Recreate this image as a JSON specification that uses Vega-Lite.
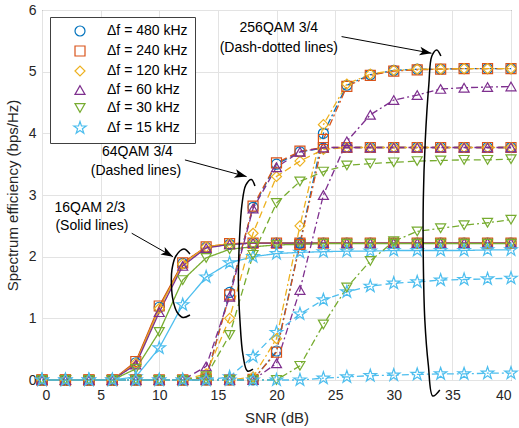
{
"$schema":"https://vega.github.io/schema/vega-lite/v6.json",
"width":469,"height":370,
"autosize":{"type":"none"},
"padding":{"left":42,"top":10,"right":8,"bottom":48},
"config":{
"font":"Liberation Sans",
"view":{"stroke":"#404040","strokeWidth":1},
"axis":{"grid":true,"gridColor":"#e3e3e3","domain":false,"ticks":false,"labelFontSize":14,"labelColor":"#262626","titleFontSize":15,"titleFontWeight":"normal","titleColor":"#262626"}
},
"resolve":{"scale":{"color":"independent","shape":"independent","strokeDash":"independent"},"legend":{"color":"independent","shape":"independent","strokeDash":"independent"}},
"datasets":{
"main":[
{"m":"16QAM","f":"Δf = 480 kHz","snr":0,"se":0},{"m":"16QAM","f":"Δf = 480 kHz","snr":2,"se":0},{"m":"16QAM","f":"Δf = 480 kHz","snr":4,"se":0},{"m":"16QAM","f":"Δf = 480 kHz","snr":6,"se":0},{"m":"16QAM","f":"Δf = 480 kHz","snr":8,"se":0.28},{"m":"16QAM","f":"Δf = 480 kHz","snr":10,"se":1.18},{"m":"16QAM","f":"Δf = 480 kHz","snr":12,"se":1.89},{"m":"16QAM","f":"Δf = 480 kHz","snr":14,"se":2.15},{"m":"16QAM","f":"Δf = 480 kHz","snr":16,"se":2.2},{"m":"16QAM","f":"Δf = 480 kHz","snr":18,"se":2.22},{"m":"16QAM","f":"Δf = 480 kHz","snr":20,"se":2.22},{"m":"16QAM","f":"Δf = 480 kHz","snr":22,"se":2.22},{"m":"16QAM","f":"Δf = 480 kHz","snr":24,"se":2.22},{"m":"16QAM","f":"Δf = 480 kHz","snr":26,"se":2.22},{"m":"16QAM","f":"Δf = 480 kHz","snr":28,"se":2.22},{"m":"16QAM","f":"Δf = 480 kHz","snr":30,"se":2.22},{"m":"16QAM","f":"Δf = 480 kHz","snr":32,"se":2.22},{"m":"16QAM","f":"Δf = 480 kHz","snr":34,"se":2.22},{"m":"16QAM","f":"Δf = 480 kHz","snr":36,"se":2.22},{"m":"16QAM","f":"Δf = 480 kHz","snr":38,"se":2.22},{"m":"16QAM","f":"Δf = 480 kHz","snr":40,"se":2.22},
{"m":"16QAM","f":"Δf = 240 kHz","snr":0,"se":0},{"m":"16QAM","f":"Δf = 240 kHz","snr":2,"se":0},{"m":"16QAM","f":"Δf = 240 kHz","snr":4,"se":0},{"m":"16QAM","f":"Δf = 240 kHz","snr":6,"se":0},{"m":"16QAM","f":"Δf = 240 kHz","snr":8,"se":0.3},{"m":"16QAM","f":"Δf = 240 kHz","snr":10,"se":1.2},{"m":"16QAM","f":"Δf = 240 kHz","snr":12,"se":1.9},{"m":"16QAM","f":"Δf = 240 kHz","snr":14,"se":2.16},{"m":"16QAM","f":"Δf = 240 kHz","snr":16,"se":2.21},{"m":"16QAM","f":"Δf = 240 kHz","snr":18,"se":2.22},{"m":"16QAM","f":"Δf = 240 kHz","snr":20,"se":2.22},{"m":"16QAM","f":"Δf = 240 kHz","snr":22,"se":2.22},{"m":"16QAM","f":"Δf = 240 kHz","snr":24,"se":2.22},{"m":"16QAM","f":"Δf = 240 kHz","snr":26,"se":2.22},{"m":"16QAM","f":"Δf = 240 kHz","snr":28,"se":2.22},{"m":"16QAM","f":"Δf = 240 kHz","snr":30,"se":2.22},{"m":"16QAM","f":"Δf = 240 kHz","snr":32,"se":2.22},{"m":"16QAM","f":"Δf = 240 kHz","snr":34,"se":2.22},{"m":"16QAM","f":"Δf = 240 kHz","snr":36,"se":2.22},{"m":"16QAM","f":"Δf = 240 kHz","snr":38,"se":2.22},{"m":"16QAM","f":"Δf = 240 kHz","snr":40,"se":2.22},
{"m":"16QAM","f":"Δf = 120 kHz","snr":0,"se":0},{"m":"16QAM","f":"Δf = 120 kHz","snr":2,"se":0},{"m":"16QAM","f":"Δf = 120 kHz","snr":4,"se":0},{"m":"16QAM","f":"Δf = 120 kHz","snr":6,"se":0},{"m":"16QAM","f":"Δf = 120 kHz","snr":8,"se":0.27},{"m":"16QAM","f":"Δf = 120 kHz","snr":10,"se":1.16},{"m":"16QAM","f":"Δf = 120 kHz","snr":12,"se":1.88},{"m":"16QAM","f":"Δf = 120 kHz","snr":14,"se":2.16},{"m":"16QAM","f":"Δf = 120 kHz","snr":16,"se":2.21},{"m":"16QAM","f":"Δf = 120 kHz","snr":18,"se":2.22},{"m":"16QAM","f":"Δf = 120 kHz","snr":20,"se":2.22},{"m":"16QAM","f":"Δf = 120 kHz","snr":22,"se":2.22},{"m":"16QAM","f":"Δf = 120 kHz","snr":24,"se":2.22},{"m":"16QAM","f":"Δf = 120 kHz","snr":26,"se":2.22},{"m":"16QAM","f":"Δf = 120 kHz","snr":28,"se":2.22},{"m":"16QAM","f":"Δf = 120 kHz","snr":30,"se":2.22},{"m":"16QAM","f":"Δf = 120 kHz","snr":32,"se":2.22},{"m":"16QAM","f":"Δf = 120 kHz","snr":34,"se":2.22},{"m":"16QAM","f":"Δf = 120 kHz","snr":36,"se":2.22},{"m":"16QAM","f":"Δf = 120 kHz","snr":38,"se":2.22},{"m":"16QAM","f":"Δf = 120 kHz","snr":40,"se":2.22},
{"m":"16QAM","f":"Δf = 60 kHz","snr":0,"se":0},{"m":"16QAM","f":"Δf = 60 kHz","snr":2,"se":0},{"m":"16QAM","f":"Δf = 60 kHz","snr":4,"se":0},{"m":"16QAM","f":"Δf = 60 kHz","snr":6,"se":0},{"m":"16QAM","f":"Δf = 60 kHz","snr":8,"se":0.25},{"m":"16QAM","f":"Δf = 60 kHz","snr":10,"se":1.1},{"m":"16QAM","f":"Δf = 60 kHz","snr":12,"se":1.85},{"m":"16QAM","f":"Δf = 60 kHz","snr":14,"se":2.14},{"m":"16QAM","f":"Δf = 60 kHz","snr":16,"se":2.2},{"m":"16QAM","f":"Δf = 60 kHz","snr":18,"se":2.22},{"m":"16QAM","f":"Δf = 60 kHz","snr":20,"se":2.22},{"m":"16QAM","f":"Δf = 60 kHz","snr":22,"se":2.22},{"m":"16QAM","f":"Δf = 60 kHz","snr":24,"se":2.22},{"m":"16QAM","f":"Δf = 60 kHz","snr":26,"se":2.22},{"m":"16QAM","f":"Δf = 60 kHz","snr":28,"se":2.22},{"m":"16QAM","f":"Δf = 60 kHz","snr":30,"se":2.22},{"m":"16QAM","f":"Δf = 60 kHz","snr":32,"se":2.22},{"m":"16QAM","f":"Δf = 60 kHz","snr":34,"se":2.22},{"m":"16QAM","f":"Δf = 60 kHz","snr":36,"se":2.22},{"m":"16QAM","f":"Δf = 60 kHz","snr":38,"se":2.22},{"m":"16QAM","f":"Δf = 60 kHz","snr":40,"se":2.22},
{"m":"16QAM","f":"Δf = 30 kHz","snr":0,"se":0},{"m":"16QAM","f":"Δf = 30 kHz","snr":2,"se":0},{"m":"16QAM","f":"Δf = 30 kHz","snr":4,"se":0},{"m":"16QAM","f":"Δf = 30 kHz","snr":6,"se":0},{"m":"16QAM","f":"Δf = 30 kHz","snr":8,"se":0.18},{"m":"16QAM","f":"Δf = 30 kHz","snr":10,"se":0.78},{"m":"16QAM","f":"Δf = 30 kHz","snr":12,"se":1.62},{"m":"16QAM","f":"Δf = 30 kHz","snr":14,"se":1.98},{"m":"16QAM","f":"Δf = 30 kHz","snr":16,"se":2.12},{"m":"16QAM","f":"Δf = 30 kHz","snr":18,"se":2.16},{"m":"16QAM","f":"Δf = 30 kHz","snr":20,"se":2.19},{"m":"16QAM","f":"Δf = 30 kHz","snr":22,"se":2.2},{"m":"16QAM","f":"Δf = 30 kHz","snr":24,"se":2.21},{"m":"16QAM","f":"Δf = 30 kHz","snr":26,"se":2.21},{"m":"16QAM","f":"Δf = 30 kHz","snr":28,"se":2.21},{"m":"16QAM","f":"Δf = 30 kHz","snr":30,"se":2.21},{"m":"16QAM","f":"Δf = 30 kHz","snr":32,"se":2.21},{"m":"16QAM","f":"Δf = 30 kHz","snr":34,"se":2.21},{"m":"16QAM","f":"Δf = 30 kHz","snr":36,"se":2.21},{"m":"16QAM","f":"Δf = 30 kHz","snr":38,"se":2.21},{"m":"16QAM","f":"Δf = 30 kHz","snr":40,"se":2.21},
{"m":"16QAM","f":"Δf = 15 kHz","snr":0,"se":0},{"m":"16QAM","f":"Δf = 15 kHz","snr":2,"se":0},{"m":"16QAM","f":"Δf = 15 kHz","snr":4,"se":0},{"m":"16QAM","f":"Δf = 15 kHz","snr":6,"se":0},{"m":"16QAM","f":"Δf = 15 kHz","snr":8,"se":0.05},{"m":"16QAM","f":"Δf = 15 kHz","snr":10,"se":0.52},{"m":"16QAM","f":"Δf = 15 kHz","snr":12,"se":1.22},{"m":"16QAM","f":"Δf = 15 kHz","snr":14,"se":1.67},{"m":"16QAM","f":"Δf = 15 kHz","snr":16,"se":1.9},{"m":"16QAM","f":"Δf = 15 kHz","snr":18,"se":2.0},{"m":"16QAM","f":"Δf = 15 kHz","snr":20,"se":2.05},{"m":"16QAM","f":"Δf = 15 kHz","snr":22,"se":2.07},{"m":"16QAM","f":"Δf = 15 kHz","snr":24,"se":2.08},{"m":"16QAM","f":"Δf = 15 kHz","snr":26,"se":2.09},{"m":"16QAM","f":"Δf = 15 kHz","snr":28,"se":2.09},{"m":"16QAM","f":"Δf = 15 kHz","snr":30,"se":2.1},{"m":"16QAM","f":"Δf = 15 kHz","snr":32,"se":2.1},{"m":"16QAM","f":"Δf = 15 kHz","snr":34,"se":2.1},{"m":"16QAM","f":"Δf = 15 kHz","snr":36,"se":2.1},{"m":"16QAM","f":"Δf = 15 kHz","snr":38,"se":2.11},{"m":"16QAM","f":"Δf = 15 kHz","snr":40,"se":2.11},
{"m":"64QAM","f":"Δf = 480 kHz","snr":0,"se":0},{"m":"64QAM","f":"Δf = 480 kHz","snr":2,"se":0},{"m":"64QAM","f":"Δf = 480 kHz","snr":4,"se":0},{"m":"64QAM","f":"Δf = 480 kHz","snr":6,"se":0},{"m":"64QAM","f":"Δf = 480 kHz","snr":8,"se":0},{"m":"64QAM","f":"Δf = 480 kHz","snr":10,"se":0},{"m":"64QAM","f":"Δf = 480 kHz","snr":12,"se":0},{"m":"64QAM","f":"Δf = 480 kHz","snr":14,"se":0.02},{"m":"64QAM","f":"Δf = 480 kHz","snr":16,"se":1.42},{"m":"64QAM","f":"Δf = 480 kHz","snr":18,"se":2.8},{"m":"64QAM","f":"Δf = 480 kHz","snr":20,"se":3.5},{"m":"64QAM","f":"Δf = 480 kHz","snr":22,"se":3.7},{"m":"64QAM","f":"Δf = 480 kHz","snr":24,"se":3.76},{"m":"64QAM","f":"Δf = 480 kHz","snr":26,"se":3.77},{"m":"64QAM","f":"Δf = 480 kHz","snr":28,"se":3.77},{"m":"64QAM","f":"Δf = 480 kHz","snr":30,"se":3.77},{"m":"64QAM","f":"Δf = 480 kHz","snr":32,"se":3.77},{"m":"64QAM","f":"Δf = 480 kHz","snr":34,"se":3.77},{"m":"64QAM","f":"Δf = 480 kHz","snr":36,"se":3.77},{"m":"64QAM","f":"Δf = 480 kHz","snr":38,"se":3.77},{"m":"64QAM","f":"Δf = 480 kHz","snr":40,"se":3.77},
{"m":"64QAM","f":"Δf = 240 kHz","snr":0,"se":0},{"m":"64QAM","f":"Δf = 240 kHz","snr":2,"se":0},{"m":"64QAM","f":"Δf = 240 kHz","snr":4,"se":0},{"m":"64QAM","f":"Δf = 240 kHz","snr":6,"se":0},{"m":"64QAM","f":"Δf = 240 kHz","snr":8,"se":0},{"m":"64QAM","f":"Δf = 240 kHz","snr":10,"se":0},{"m":"64QAM","f":"Δf = 240 kHz","snr":12,"se":0},{"m":"64QAM","f":"Δf = 240 kHz","snr":14,"se":0.03},{"m":"64QAM","f":"Δf = 240 kHz","snr":16,"se":1.38},{"m":"64QAM","f":"Δf = 240 kHz","snr":18,"se":2.82},{"m":"64QAM","f":"Δf = 240 kHz","snr":20,"se":3.52},{"m":"64QAM","f":"Δf = 240 kHz","snr":22,"se":3.71},{"m":"64QAM","f":"Δf = 240 kHz","snr":24,"se":3.77},{"m":"64QAM","f":"Δf = 240 kHz","snr":26,"se":3.77},{"m":"64QAM","f":"Δf = 240 kHz","snr":28,"se":3.77},{"m":"64QAM","f":"Δf = 240 kHz","snr":30,"se":3.77},{"m":"64QAM","f":"Δf = 240 kHz","snr":32,"se":3.77},{"m":"64QAM","f":"Δf = 240 kHz","snr":34,"se":3.77},{"m":"64QAM","f":"Δf = 240 kHz","snr":36,"se":3.77},{"m":"64QAM","f":"Δf = 240 kHz","snr":38,"se":3.77},{"m":"64QAM","f":"Δf = 240 kHz","snr":40,"se":3.77},
{"m":"64QAM","f":"Δf = 120 kHz","snr":0,"se":0},{"m":"64QAM","f":"Δf = 120 kHz","snr":2,"se":0},{"m":"64QAM","f":"Δf = 120 kHz","snr":4,"se":0},{"m":"64QAM","f":"Δf = 120 kHz","snr":6,"se":0},{"m":"64QAM","f":"Δf = 120 kHz","snr":8,"se":0},{"m":"64QAM","f":"Δf = 120 kHz","snr":10,"se":0},{"m":"64QAM","f":"Δf = 120 kHz","snr":12,"se":0},{"m":"64QAM","f":"Δf = 120 kHz","snr":14,"se":0.1},{"m":"64QAM","f":"Δf = 120 kHz","snr":16,"se":1.0},{"m":"64QAM","f":"Δf = 120 kHz","snr":18,"se":2.38},{"m":"64QAM","f":"Δf = 120 kHz","snr":20,"se":3.3},{"m":"64QAM","f":"Δf = 120 kHz","snr":22,"se":3.55},{"m":"64QAM","f":"Δf = 120 kHz","snr":24,"se":3.74},{"m":"64QAM","f":"Δf = 120 kHz","snr":26,"se":3.77},{"m":"64QAM","f":"Δf = 120 kHz","snr":28,"se":3.77},{"m":"64QAM","f":"Δf = 120 kHz","snr":30,"se":3.77},{"m":"64QAM","f":"Δf = 120 kHz","snr":32,"se":3.77},{"m":"64QAM","f":"Δf = 120 kHz","snr":34,"se":3.77},{"m":"64QAM","f":"Δf = 120 kHz","snr":36,"se":3.77},{"m":"64QAM","f":"Δf = 120 kHz","snr":38,"se":3.77},{"m":"64QAM","f":"Δf = 120 kHz","snr":40,"se":3.77},
{"m":"64QAM","f":"Δf = 60 kHz","snr":0,"se":0},{"m":"64QAM","f":"Δf = 60 kHz","snr":2,"se":0},{"m":"64QAM","f":"Δf = 60 kHz","snr":4,"se":0},{"m":"64QAM","f":"Δf = 60 kHz","snr":6,"se":0},{"m":"64QAM","f":"Δf = 60 kHz","snr":8,"se":0},{"m":"64QAM","f":"Δf = 60 kHz","snr":10,"se":0},{"m":"64QAM","f":"Δf = 60 kHz","snr":12,"se":0},{"m":"64QAM","f":"Δf = 60 kHz","snr":14,"se":0.22},{"m":"64QAM","f":"Δf = 60 kHz","snr":16,"se":1.35},{"m":"64QAM","f":"Δf = 60 kHz","snr":18,"se":2.78},{"m":"64QAM","f":"Δf = 60 kHz","snr":20,"se":3.45},{"m":"64QAM","f":"Δf = 60 kHz","snr":22,"se":3.7},{"m":"64QAM","f":"Δf = 60 kHz","snr":24,"se":3.77},{"m":"64QAM","f":"Δf = 60 kHz","snr":26,"se":3.77},{"m":"64QAM","f":"Δf = 60 kHz","snr":28,"se":3.77},{"m":"64QAM","f":"Δf = 60 kHz","snr":30,"se":3.77},{"m":"64QAM","f":"Δf = 60 kHz","snr":32,"se":3.77},{"m":"64QAM","f":"Δf = 60 kHz","snr":34,"se":3.77},{"m":"64QAM","f":"Δf = 60 kHz","snr":36,"se":3.77},{"m":"64QAM","f":"Δf = 60 kHz","snr":38,"se":3.77},{"m":"64QAM","f":"Δf = 60 kHz","snr":40,"se":3.77},
{"m":"64QAM","f":"Δf = 30 kHz","snr":0,"se":0},{"m":"64QAM","f":"Δf = 30 kHz","snr":2,"se":0},{"m":"64QAM","f":"Δf = 30 kHz","snr":4,"se":0},{"m":"64QAM","f":"Δf = 30 kHz","snr":6,"se":0},{"m":"64QAM","f":"Δf = 30 kHz","snr":8,"se":0},{"m":"64QAM","f":"Δf = 30 kHz","snr":10,"se":0},{"m":"64QAM","f":"Δf = 30 kHz","snr":12,"se":0},{"m":"64QAM","f":"Δf = 30 kHz","snr":14,"se":0.06},{"m":"64QAM","f":"Δf = 30 kHz","snr":16,"se":0.73},{"m":"64QAM","f":"Δf = 30 kHz","snr":18,"se":2.03},{"m":"64QAM","f":"Δf = 30 kHz","snr":20,"se":2.87},{"m":"64QAM","f":"Δf = 30 kHz","snr":22,"se":3.22},{"m":"64QAM","f":"Δf = 30 kHz","snr":24,"se":3.38},{"m":"64QAM","f":"Δf = 30 kHz","snr":26,"se":3.48},{"m":"64QAM","f":"Δf = 30 kHz","snr":28,"se":3.51},{"m":"64QAM","f":"Δf = 30 kHz","snr":30,"se":3.53},{"m":"64QAM","f":"Δf = 30 kHz","snr":32,"se":3.55},{"m":"64QAM","f":"Δf = 30 kHz","snr":34,"se":3.56},{"m":"64QAM","f":"Δf = 30 kHz","snr":36,"se":3.57},{"m":"64QAM","f":"Δf = 30 kHz","snr":38,"se":3.57},{"m":"64QAM","f":"Δf = 30 kHz","snr":40,"se":3.58},
{"m":"64QAM","f":"Δf = 15 kHz","snr":0,"se":0},{"m":"64QAM","f":"Δf = 15 kHz","snr":2,"se":0},{"m":"64QAM","f":"Δf = 15 kHz","snr":4,"se":0},{"m":"64QAM","f":"Δf = 15 kHz","snr":6,"se":0},{"m":"64QAM","f":"Δf = 15 kHz","snr":8,"se":0},{"m":"64QAM","f":"Δf = 15 kHz","snr":10,"se":0},{"m":"64QAM","f":"Δf = 15 kHz","snr":12,"se":0},{"m":"64QAM","f":"Δf = 15 kHz","snr":14,"se":0},{"m":"64QAM","f":"Δf = 15 kHz","snr":16,"se":0.05},{"m":"64QAM","f":"Δf = 15 kHz","snr":18,"se":0.38},{"m":"64QAM","f":"Δf = 15 kHz","snr":20,"se":0.77},{"m":"64QAM","f":"Δf = 15 kHz","snr":22,"se":1.07},{"m":"64QAM","f":"Δf = 15 kHz","snr":24,"se":1.3},{"m":"64QAM","f":"Δf = 15 kHz","snr":26,"se":1.43},{"m":"64QAM","f":"Δf = 15 kHz","snr":28,"se":1.52},{"m":"64QAM","f":"Δf = 15 kHz","snr":30,"se":1.57},{"m":"64QAM","f":"Δf = 15 kHz","snr":32,"se":1.59},{"m":"64QAM","f":"Δf = 15 kHz","snr":34,"se":1.62},{"m":"64QAM","f":"Δf = 15 kHz","snr":36,"se":1.63},{"m":"64QAM","f":"Δf = 15 kHz","snr":38,"se":1.64},{"m":"64QAM","f":"Δf = 15 kHz","snr":40,"se":1.65},
{"m":"256QAM","f":"Δf = 480 kHz","snr":0,"se":0},{"m":"256QAM","f":"Δf = 480 kHz","snr":2,"se":0},{"m":"256QAM","f":"Δf = 480 kHz","snr":4,"se":0},{"m":"256QAM","f":"Δf = 480 kHz","snr":6,"se":0},{"m":"256QAM","f":"Δf = 480 kHz","snr":8,"se":0},{"m":"256QAM","f":"Δf = 480 kHz","snr":10,"se":0},{"m":"256QAM","f":"Δf = 480 kHz","snr":12,"se":0},{"m":"256QAM","f":"Δf = 480 kHz","snr":14,"se":0},{"m":"256QAM","f":"Δf = 480 kHz","snr":16,"se":0},{"m":"256QAM","f":"Δf = 480 kHz","snr":18,"se":0},{"m":"256QAM","f":"Δf = 480 kHz","snr":20,"se":0.47},{"m":"256QAM","f":"Δf = 480 kHz","snr":22,"se":2.22},{"m":"256QAM","f":"Δf = 480 kHz","snr":24,"se":4.0},{"m":"256QAM","f":"Δf = 480 kHz","snr":26,"se":4.78},{"m":"256QAM","f":"Δf = 480 kHz","snr":28,"se":4.95},{"m":"256QAM","f":"Δf = 480 kHz","snr":30,"se":5.02},{"m":"256QAM","f":"Δf = 480 kHz","snr":32,"se":5.04},{"m":"256QAM","f":"Δf = 480 kHz","snr":34,"se":5.04},{"m":"256QAM","f":"Δf = 480 kHz","snr":36,"se":5.05},{"m":"256QAM","f":"Δf = 480 kHz","snr":38,"se":5.05},{"m":"256QAM","f":"Δf = 480 kHz","snr":40,"se":5.05},
{"m":"256QAM","f":"Δf = 240 kHz","snr":0,"se":0},{"m":"256QAM","f":"Δf = 240 kHz","snr":2,"se":0},{"m":"256QAM","f":"Δf = 240 kHz","snr":4,"se":0},{"m":"256QAM","f":"Δf = 240 kHz","snr":6,"se":0},{"m":"256QAM","f":"Δf = 240 kHz","snr":8,"se":0},{"m":"256QAM","f":"Δf = 240 kHz","snr":10,"se":0},{"m":"256QAM","f":"Δf = 240 kHz","snr":12,"se":0},{"m":"256QAM","f":"Δf = 240 kHz","snr":14,"se":0},{"m":"256QAM","f":"Δf = 240 kHz","snr":16,"se":0},{"m":"256QAM","f":"Δf = 240 kHz","snr":18,"se":0.01},{"m":"256QAM","f":"Δf = 240 kHz","snr":20,"se":0.45},{"m":"256QAM","f":"Δf = 240 kHz","snr":22,"se":2.2},{"m":"256QAM","f":"Δf = 240 kHz","snr":24,"se":3.9},{"m":"256QAM","f":"Δf = 240 kHz","snr":26,"se":4.76},{"m":"256QAM","f":"Δf = 240 kHz","snr":28,"se":4.94},{"m":"256QAM","f":"Δf = 240 kHz","snr":30,"se":5.01},{"m":"256QAM","f":"Δf = 240 kHz","snr":32,"se":5.03},{"m":"256QAM","f":"Δf = 240 kHz","snr":34,"se":5.04},{"m":"256QAM","f":"Δf = 240 kHz","snr":36,"se":5.05},{"m":"256QAM","f":"Δf = 240 kHz","snr":38,"se":5.05},{"m":"256QAM","f":"Δf = 240 kHz","snr":40,"se":5.05},
{"m":"256QAM","f":"Δf = 120 kHz","snr":0,"se":0},{"m":"256QAM","f":"Δf = 120 kHz","snr":2,"se":0},{"m":"256QAM","f":"Δf = 120 kHz","snr":4,"se":0},{"m":"256QAM","f":"Δf = 120 kHz","snr":6,"se":0},{"m":"256QAM","f":"Δf = 120 kHz","snr":8,"se":0},{"m":"256QAM","f":"Δf = 120 kHz","snr":10,"se":0},{"m":"256QAM","f":"Δf = 120 kHz","snr":12,"se":0},{"m":"256QAM","f":"Δf = 120 kHz","snr":14,"se":0},{"m":"256QAM","f":"Δf = 120 kHz","snr":16,"se":0},{"m":"256QAM","f":"Δf = 120 kHz","snr":18,"se":0.05},{"m":"256QAM","f":"Δf = 120 kHz","snr":20,"se":0.67},{"m":"256QAM","f":"Δf = 120 kHz","snr":22,"se":2.5},{"m":"256QAM","f":"Δf = 120 kHz","snr":24,"se":4.14},{"m":"256QAM","f":"Δf = 120 kHz","snr":26,"se":4.8},{"m":"256QAM","f":"Δf = 120 kHz","snr":28,"se":4.96},{"m":"256QAM","f":"Δf = 120 kHz","snr":30,"se":5.02},{"m":"256QAM","f":"Δf = 120 kHz","snr":32,"se":5.04},{"m":"256QAM","f":"Δf = 120 kHz","snr":34,"se":5.04},{"m":"256QAM","f":"Δf = 120 kHz","snr":36,"se":5.05},{"m":"256QAM","f":"Δf = 120 kHz","snr":38,"se":5.05},{"m":"256QAM","f":"Δf = 120 kHz","snr":40,"se":5.05},
{"m":"256QAM","f":"Δf = 60 kHz","snr":0,"se":0},{"m":"256QAM","f":"Δf = 60 kHz","snr":2,"se":0},{"m":"256QAM","f":"Δf = 60 kHz","snr":4,"se":0},{"m":"256QAM","f":"Δf = 60 kHz","snr":6,"se":0},{"m":"256QAM","f":"Δf = 60 kHz","snr":8,"se":0},{"m":"256QAM","f":"Δf = 60 kHz","snr":10,"se":0},{"m":"256QAM","f":"Δf = 60 kHz","snr":12,"se":0},{"m":"256QAM","f":"Δf = 60 kHz","snr":14,"se":0},{"m":"256QAM","f":"Δf = 60 kHz","snr":16,"se":0},{"m":"256QAM","f":"Δf = 60 kHz","snr":18,"se":0},{"m":"256QAM","f":"Δf = 60 kHz","snr":20,"se":0.27},{"m":"256QAM","f":"Δf = 60 kHz","snr":22,"se":1.46},{"m":"256QAM","f":"Δf = 60 kHz","snr":24,"se":3.0},{"m":"256QAM","f":"Δf = 60 kHz","snr":26,"se":3.87},{"m":"256QAM","f":"Δf = 60 kHz","snr":28,"se":4.3},{"m":"256QAM","f":"Δf = 60 kHz","snr":30,"se":4.54},{"m":"256QAM","f":"Δf = 60 kHz","snr":32,"se":4.62},{"m":"256QAM","f":"Δf = 60 kHz","snr":34,"se":4.72},{"m":"256QAM","f":"Δf = 60 kHz","snr":36,"se":4.74},{"m":"256QAM","f":"Δf = 60 kHz","snr":38,"se":4.75},{"m":"256QAM","f":"Δf = 60 kHz","snr":40,"se":4.76},
{"m":"256QAM","f":"Δf = 30 kHz","snr":0,"se":0},{"m":"256QAM","f":"Δf = 30 kHz","snr":2,"se":0},{"m":"256QAM","f":"Δf = 30 kHz","snr":4,"se":0},{"m":"256QAM","f":"Δf = 30 kHz","snr":6,"se":0},{"m":"256QAM","f":"Δf = 30 kHz","snr":8,"se":0},{"m":"256QAM","f":"Δf = 30 kHz","snr":10,"se":0},{"m":"256QAM","f":"Δf = 30 kHz","snr":12,"se":0},{"m":"256QAM","f":"Δf = 30 kHz","snr":14,"se":0},{"m":"256QAM","f":"Δf = 30 kHz","snr":16,"se":0},{"m":"256QAM","f":"Δf = 30 kHz","snr":18,"se":0},{"m":"256QAM","f":"Δf = 30 kHz","snr":20,"se":0},{"m":"256QAM","f":"Δf = 30 kHz","snr":22,"se":0.23},{"m":"256QAM","f":"Δf = 30 kHz","snr":24,"se":0.9},{"m":"256QAM","f":"Δf = 30 kHz","snr":26,"se":1.5},{"m":"256QAM","f":"Δf = 30 kHz","snr":28,"se":1.93},{"m":"256QAM","f":"Δf = 30 kHz","snr":30,"se":2.25},{"m":"256QAM","f":"Δf = 30 kHz","snr":32,"se":2.41},{"m":"256QAM","f":"Δf = 30 kHz","snr":34,"se":2.46},{"m":"256QAM","f":"Δf = 30 kHz","snr":36,"se":2.51},{"m":"256QAM","f":"Δf = 30 kHz","snr":38,"se":2.55},{"m":"256QAM","f":"Δf = 30 kHz","snr":40,"se":2.6},
{"m":"256QAM","f":"Δf = 15 kHz","snr":0,"se":0},{"m":"256QAM","f":"Δf = 15 kHz","snr":2,"se":0},{"m":"256QAM","f":"Δf = 15 kHz","snr":4,"se":0},{"m":"256QAM","f":"Δf = 15 kHz","snr":6,"se":0},{"m":"256QAM","f":"Δf = 15 kHz","snr":8,"se":0},{"m":"256QAM","f":"Δf = 15 kHz","snr":10,"se":0},{"m":"256QAM","f":"Δf = 15 kHz","snr":12,"se":0},{"m":"256QAM","f":"Δf = 15 kHz","snr":14,"se":0},{"m":"256QAM","f":"Δf = 15 kHz","snr":16,"se":0},{"m":"256QAM","f":"Δf = 15 kHz","snr":18,"se":0},{"m":"256QAM","f":"Δf = 15 kHz","snr":20,"se":0},{"m":"256QAM","f":"Δf = 15 kHz","snr":22,"se":0},{"m":"256QAM","f":"Δf = 15 kHz","snr":24,"se":0.03},{"m":"256QAM","f":"Δf = 15 kHz","snr":26,"se":0.05},{"m":"256QAM","f":"Δf = 15 kHz","snr":28,"se":0.07},{"m":"256QAM","f":"Δf = 15 kHz","snr":30,"se":0.08},{"m":"256QAM","f":"Δf = 15 kHz","snr":32,"se":0.09},{"m":"256QAM","f":"Δf = 15 kHz","snr":34,"se":0.1},{"m":"256QAM","f":"Δf = 15 kHz","snr":36,"se":0.1},{"m":"256QAM","f":"Δf = 15 kHz","snr":38,"se":0.11},{"m":"256QAM","f":"Δf = 15 kHz","snr":40,"se":0.11}
],
"curves":[
{"c":"a","o":1,"snr":12.62,"se":2.044},{"c":"a","o":2,"snr":12.1,"se":2.125},{"c":"a","o":3,"snr":11.42,"se":2.011},{"c":"a","o":4,"snr":11.08,"se":1.784},{"c":"a","o":5,"snr":11.04,"se":1.541},{"c":"a","o":6,"snr":11.17,"se":1.298},{"c":"a","o":7,"snr":11.51,"se":1.103},{"c":"a","o":8,"snr":12.02,"se":1.014},{"c":"a","o":9,"snr":12.62,"se":1.054},
{"c":"b","o":1,"snr":18.16,"se":3.147},{"c":"b","o":2,"snr":17.86,"se":3.252},{"c":"b","o":3,"snr":17.39,"se":3.163},{"c":"b","o":4,"snr":17.05,"se":2.839},{"c":"b","o":5,"snr":16.84,"se":2.271},{"c":"b","o":6,"snr":16.75,"se":1.622},{"c":"b","o":7,"snr":16.88,"se":0.973},{"c":"b","o":8,"snr":17.14,"se":0.406},{"c":"b","o":9,"snr":17.52,"se":0.146},{"c":"b","o":10,"snr":17.99,"se":0.178},
{"c":"c","o":1,"snr":34.02,"se":5.255},{"c":"c","o":2,"snr":33.67,"se":5.353},{"c":"c","o":3,"snr":33.25,"se":5.255},{"c":"c","o":4,"snr":32.99,"se":4.785},{"c":"c","o":5,"snr":32.69,"se":3.893},{"c":"c","o":6,"snr":32.52,"se":2.92},{"c":"c","o":7,"snr":32.52,"se":1.947},{"c":"c","o":8,"snr":32.65,"se":0.973},{"c":"c","o":9,"snr":32.95,"se":0.243},{"c":"c","o":10,"snr":33.33,"se":-0.26},{"c":"c","o":11,"snr":33.93,"se":-0.162}
],
"notes":[
{"label":"256QAM 3/4","snr":20.2,"se":5.71},
{"label":"(Dash-dotted lines)","snr":20.2,"se":5.38},
{"label":"64QAM 3/4","snr":8.14,"se":3.703},
{"label":"(Dashed lines)","snr":8.01,"se":3.39},
{"label":"16QAM 2/3","snr":4.09,"se":2.785},
{"label":"(Solid lines)","snr":4.26,"se":2.503}
],
"arrows":[
{"a":"16","snr":11.17,"se":2.0,"snr2":7.65,"se2":2.38},
{"a":"64","snr":17.45,"se":3.298,"snr2":12.19,"se2":3.569},
{"a":"256","snr":33.22,"se":5.299,"snr2":25.55,"se2":5.569}
]
},
"encoding":{
"x":{"field":"snr","type":"quantitative","scale":{"domain":[0,40],"nice":false},"axis":{"title":"SNR (dB)","values":[0,5,10,15,20,25,30,35,40],"labelPadding":8,"titlePadding":8}},
"y":{"field":"se","type":"quantitative","scale":{"domain":[0,6],"nice":false},"axis":{"title":"Spectrum efficiency (bps/Hz)","values":[0,1,2,3,4,5,6],"labelPadding":6,"titlePadding":8}}
},
"layer":[
{"data":{"name":"main"},
"mark":{"type":"line","strokeWidth":1.3},
"encoding":{
"color":{"field":"f","type":"nominal","scale":{"domain":["Δf = 480 kHz","Δf = 240 kHz","Δf = 120 kHz","Δf = 60 kHz","Δf = 30 kHz","Δf = 15 kHz"],"range":["#0072BD","#D95319","#EDB120","#7E2F8E","#77AC30","#4DBEEE"]},"legend":null},
"strokeDash":{"field":"m","type":"nominal","scale":{"domain":["16QAM","64QAM","256QAM"],"range":[[1,0],[7,4],[7,3,2,3]]},"legend":null}
}},
{"data":{"name":"main"},
"mark":{"type":"point","filled":false,"size":100,"strokeWidth":1.2,"opacity":1},
"encoding":{
"color":{"field":"f","type":"nominal","scale":{"domain":["Δf = 480 kHz","Δf = 240 kHz","Δf = 120 kHz","Δf = 60 kHz","Δf = 30 kHz","Δf = 15 kHz"],"range":["#0072BD","#D95319","#EDB120","#7E2F8E","#77AC30","#4DBEEE"]},
"legend":{"title":null,"orient":"none","legendX":8,"legendY":7,"fillColor":"white","strokeColor":"#404040","padding":7,"labelFontSize":14,"labelColor":"black","symbolStrokeWidth":1.2,"symbolSize":100,"rowPadding":4,"symbolOffset":16,"labelOffset":20}},
"shape":{"field":"f","type":"nominal","scale":{"domain":["Δf = 480 kHz","Δf = 240 kHz","Δf = 120 kHz","Δf = 60 kHz","Δf = 30 kHz","Δf = 15 kHz"],"range":["circle","square","diamond","triangle-up","triangle-down","M0,-1.3L0.294,-0.405L1.236,-0.402L0.476,0.155L0.764,1.052L0,0.5L-0.764,1.052L-0.476,0.155L-1.236,-0.402L-0.294,-0.405Z"]},
"legend":{"title":null,"orient":"none","legendX":8,"legendY":7,"fillColor":"white","strokeColor":"#404040","padding":7,"labelFontSize":14,"labelColor":"black","symbolStrokeWidth":1.2,"symbolSize":100,"rowPadding":4,"symbolOffset":16,"labelOffset":20}}
}},
{"data":{"name":"curves"},
"mark":{"type":"line","color":"black","strokeWidth":1.5,"interpolate":"catmull-rom"},
"encoding":{"detail":{"field":"c","type":"nominal"},"order":{"field":"o","type":"quantitative"}}},
{"data":{"name":"arrows"},
"mark":{"type":"rule","color":"black","strokeWidth":1},
"encoding":{"x2":{"field":"snr2"},"y2":{"field":"se2"}}},
{"data":{"name":"arrows"},"transform":[{"filter":"datum.a === '16'"}],
"mark":{"type":"point","shape":"M0,0L-1,-0.36L-0.75,0L-1,0.36Z","filled":true,"color":"black","opacity":1,"size":576,"angle":29.5},
"encoding":{}},
{"data":{"name":"arrows"},"transform":[{"filter":"datum.a === '64'"}],
"mark":{"type":"point","shape":"M0,0L-1,-0.36L-0.75,0L-1,0.36Z","filled":true,"color":"black","opacity":1,"size":576,"angle":15.1},
"encoding":{}},
{"data":{"name":"arrows"},"transform":[{"filter":"datum.a === '256'"}],
"mark":{"type":"point","shape":"M0,0L-1,-0.36L-0.75,0L-1,0.36Z","filled":true,"color":"black","opacity":1,"size":576,"angle":10.5},
"encoding":{}},
{"data":{"name":"notes"},
"mark":{"type":"text","fontSize":14,"color":"black","align":"center","baseline":"middle"},
"encoding":{"text":{"field":"label","type":"nominal"}}}
]
}
